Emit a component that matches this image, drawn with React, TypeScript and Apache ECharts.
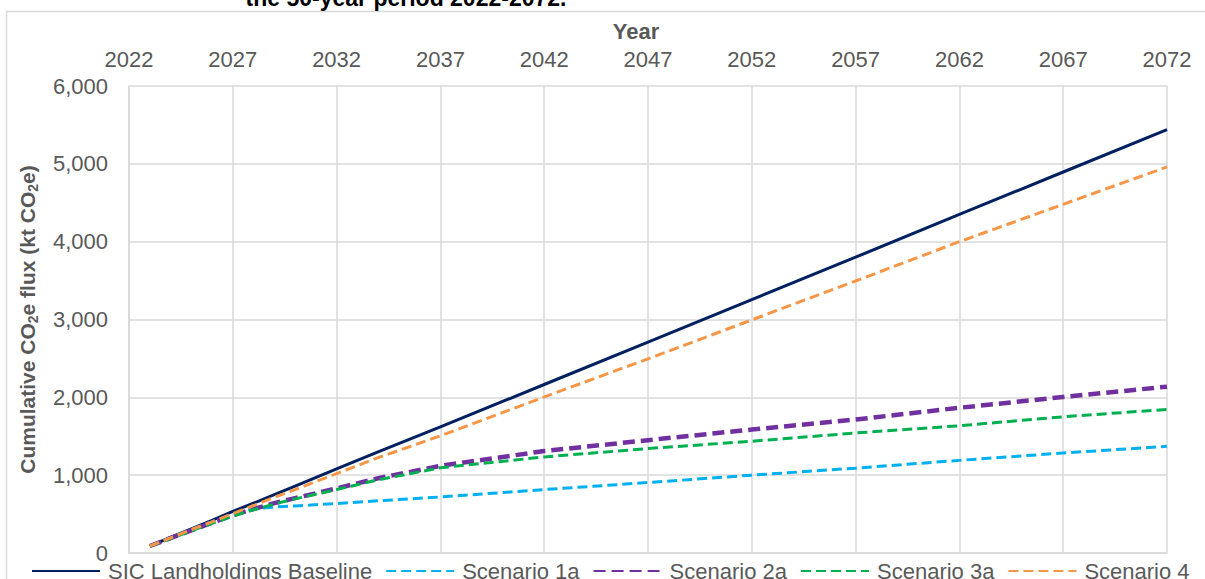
import React, { useEffect, useRef } from 'react';
import * as echarts from 'echarts';

const START_YEAR = 2022;
const END_YEAR = 2072;
const Y_MAX = 6000;
const Y_STEP = 1000;
const X_STEP = 5;

const years = [2023, 2024, 2025, 2026, 2027, 2028, 2029, 2030, 2032, 2034, 2037, 2042, 2047, 2052, 2057, 2062, 2067, 2072];

const baseline = [90, 200, 310, 420, 535, 640, 750, 860, 1080, 1300, 1620, 2165, 2710, 3255, 3800, 4350, 4895, 5440];
const scenario1a = [90, 195, 300, 400, 500, 570, 590, 605, 635, 670, 720, 815, 905, 1000, 1090, 1190, 1285, 1370];
const scenario2a = [90, 190, 290, 390, 485, 565, 640, 705, 830, 960, 1120, 1310, 1450, 1586, 1715, 1866, 2005, 2137];
const scenario3a = [90, 185, 285, 380, 475, 555, 630, 695, 815, 940, 1095, 1234, 1342, 1436, 1542, 1635, 1750, 1845];
const scenario4 = [90, 195, 300, 400, 506, 610, 715, 815, 1020, 1225, 1505, 2005, 2495, 2995, 3495, 4000, 4480, 4960];

const seriesNames = ['SIC Landholdings Baseline', 'Scenario 1a', 'Scenario 2a', 'Scenario 3a', 'Scenario 4'];
const seriesValues = [baseline, scenario1a, scenario2a, scenario3a, scenario4];
const seriesColors = ['#002060', '#00B0F0', '#7030A0', '#00B050', '#F79646'];

const FONT = '"Liberation Sans", Arial, sans-serif';
const GRAY_TEXT = '#595959';
const GRID_COLOR = '#d9d9d9';

export default function App() {
  const ref = useRef<HTMLDivElement>(null);

  useEffect(() => {
    if (!ref.current) return;
    const chart = echarts.init(ref.current, null, { renderer: 'svg' });

    const styles = [
      { width: 3, type: 'solid' as any },
      { width: 3, type: [10, 5] },
      { width: 4.5, type: [12, 6] },
      { width: 3, type: [10, 5] },
      { width: 3, type: [10, 5] },
    ];

    const series = seriesNames.map((name, i) => ({
      name,
      type: 'line',
      showSymbol: false,
      symbol: 'none',
      data: years.map((y, j) => [y - START_YEAR, seriesValues[i][j]]),
      lineStyle: { color: seriesColors[i], width: styles[i].width, type: styles[i].type },
      itemStyle: { color: seriesColors[i] },
      z: 2 + i,
    }));

    chart.setOption({
      animation: false,
      backgroundColor: '#ffffff',
      textStyle: { fontFamily: FONT },
      graphic: [
        {
          type: 'rect',
          shape: { x: 6.5, y: 11.5, width: 1300, height: 700 },
          style: { fill: 'none', stroke: GRID_COLOR, lineWidth: 1.5 },
          silent: true,
        },
        {
          type: 'text',
          x: 406,
          y: 9,
          style: {
            text: 'the 50-year period 2022-2072.',
            font: `bold 23px ${FONT}`,
            fill: '#000000',
            align: 'center',
            verticalAlign: 'bottom',
          },
        },
      ],
      grid: { left: 129, right: 38, top: 86, bottom: 26, containLabel: false },
      legend: {
        left: 31,
        top: 560,
        width: 1174,
        padding: 0,
        itemWidth: 68,
        itemHeight: 14,
        itemGap: 13,
        itemStyle: { opacity: 0 },
        textStyle: { fontSize: 22, color: GRAY_TEXT, fontFamily: FONT, padding: [0, 0, 0, 3] },
        data: seriesNames,
      },
      xAxis: {
        type: 'value',
        position: 'top',
        min: 0,
        max: END_YEAR - START_YEAR,
        interval: X_STEP,
        name: 'Year',
        nameLocation: 'middle',
        nameGap: 44,
        nameTextStyle: { fontSize: 22, fontWeight: 'bold', color: GRAY_TEXT, padding: [0, 24, 0, 0], fontFamily: FONT },
        axisLine: { show: true, lineStyle: { color: GRID_COLOR, width: 1.5 } },
        axisTick: { show: false },
        axisLabel: {
          fontSize: 22,
          color: GRAY_TEXT,
          margin: 16,
          fontFamily: FONT,
          formatter: (v: number) => String(v + START_YEAR),
        },
        splitLine: { show: true, lineStyle: { color: GRID_COLOR, width: 1.5 } },
      },
      yAxis: {
        type: 'value',
        min: 0,
        max: Y_MAX,
        interval: Y_STEP,
        name: '{a|Cumulative CO}{s|2}{a|e flux (kt CO}{s|2}{a|e)}',
        nameLocation: 'middle',
        nameGap: 89,
        nameTextStyle: {
          rich: {
            a: { fontSize: 21, fontWeight: 'bold', color: GRAY_TEXT, lineHeight: 26, fontFamily: FONT },
            s: { fontSize: 14, fontWeight: 'bold', color: GRAY_TEXT, lineHeight: 14, verticalAlign: 'bottom', fontFamily: FONT },
          },
        },
        axisLine: { show: true, lineStyle: { color: GRID_COLOR, width: 1.5 } },
        axisTick: { show: false },
        axisLabel: {
          fontSize: 22,
          color: GRAY_TEXT,
          margin: 21,
          fontFamily: FONT,
          formatter: (v: number) => v.toLocaleString('en-US'),
        },
        splitLine: { show: true, lineStyle: { color: GRID_COLOR, width: 1.5 } },
      },
      series,
    });

    return () => chart.dispose();
  }, []);

  return (
    <div
      ref={ref}
      style={{ position: 'fixed', left: 0, top: 0, width: 1205, height: 579, background: '#ffffff' }}
    />
  );
}
